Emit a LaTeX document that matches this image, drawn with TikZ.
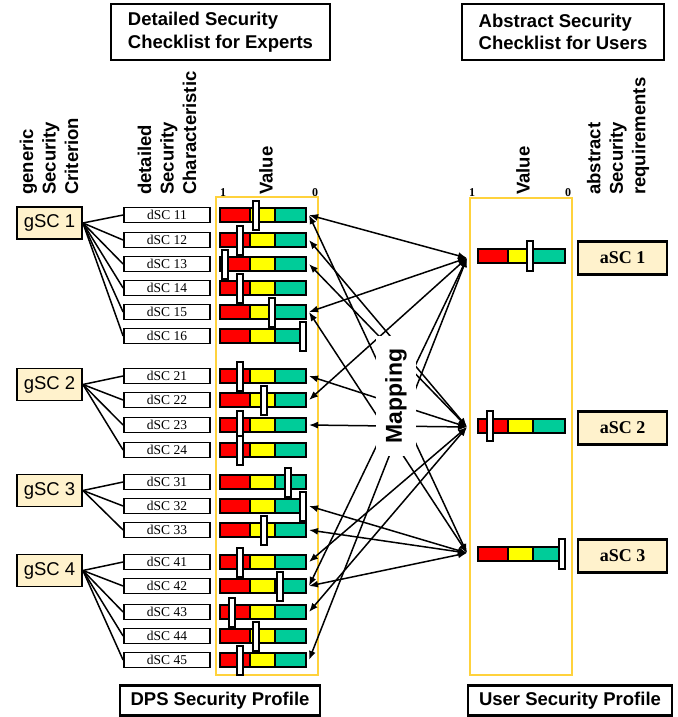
\documentclass[tikz,border=0pt]{standalone}
\usepackage{fontspec}
\setmainfont{Liberation Serif}
\newfontfamily\arial{Liberation Sans}
\usetikzlibrary{arrows.meta}
\definecolor{gscfill}{RGB}{255,242,204}
\definecolor{frameyellow}{RGB}{255,210,60}
\definecolor{barred}{RGB}{255,0,0}
\definecolor{baryellow}{RGB}{255,255,0}
\definecolor{bargreen}{RGB}{0,204,153}
\tikzset{
  hdr/.style={font=\arial\bfseries\fontsize{18.5}{22.5}\selectfont, align=left},
  rothdr/.style={hdr, rotate=90, anchor=west, inner sep=0pt},
  titlebox/.style={draw, line width=2.2pt, hdr, inner sep=0pt},
  gscbox/.style={draw, line width=1.8pt, fill=gscfill, font=\arial\fontsize{18.5}{20}\selectfont, minimum width=65pt, minimum height=32pt, inner sep=0pt},
  dscbox/.style={draw, line width=1.8pt, fill=white, font=\fontsize{13.5}{13.5}\selectfont, minimum width=86pt, minimum height=15pt, inner sep=0pt},
  ascbox/.style={draw, line width=2.2pt, fill=gscfill, font=\bfseries\fontsize{18}{18}\selectfont, minimum width=89pt, minimum height=33pt, inner sep=0pt},
  barpart/.style={draw, line width=2pt},
  slider/.style={draw, fill=white, line width=2pt},
  frame/.style={draw=frameyellow, line width=1.6pt},
  conn/.style={line width=1.5pt},
  maparrow/.style={line width=1.5pt, {Latex[length=9pt,width=7pt]}-{Latex[length=9pt,width=7pt]}},
  scalelbl/.style={font=\bfseries\fontsize{12}{12}\selectfont, anchor=south, inner sep=0.5pt},
}
\begin{document}
\begin{tikzpicture}[x=1pt,y=-1pt]
\useasboundingbox (0,0) rectangle (677,717);

% title boxes
\node[titlebox, minimum width=219pt, minimum height=56pt] (tleft) at (220.5,32) {Detailed Security\\Checklist for Experts};
\node[titlebox, minimum width=202pt, minimum height=56pt] (tright) at (563,32) {Abstract Security\\Checklist for Users};
\node[titlebox, minimum width=200pt, minimum height=30pt] (bleft) at (220,700.5) {DPS Security Profile};
\node[titlebox, minimum width=204pt, minimum height=30pt] (bright) at (570,700.5) {User Security Profile};

% rotated headers
\node[rothdr] (h1txt) at (49,195) {generic\\Security\\Criterion};
\node[rothdr] (h2txt) at (167,195) {detailed\\Security\\Characteristic};
\node[rothdr] (h3txt) at (266,195) {Value};
\node[rothdr] (h4txt) at (523,195) {Value};
\node[rothdr] (h5txt) at (618,195) {abstract\\Security\\requirements};

\node[scalelbl] (one1) at (223,197) {1};
\node[scalelbl] (zero1) at (315,197) {0};
\node[scalelbl] (one2) at (472,197) {1};
\node[scalelbl] (zero2) at (568,197) {0};

% yellow frames
\draw[frame] (216,197) rectangle (318,675);
\draw[frame] (470,198) rectangle (572,675);

% gSC boxes
\node[gscbox] (g1) at (49.5,223) {gSC 1};
\node[gscbox] (g2) at (49.5,384.5) {gSC 2};
\node[gscbox] (g3) at (49.5,490.5) {gSC 3};
\node[gscbox] (g4) at (49.5,570.5) {gSC 4};

% dSC rows
\foreach \n/\y/\s in {11/215/256, 12/240/239.5, 13/264/224.5, 14/288/239.5, 15/312/272, 16/336/303,
                      21/376/239.5, 22/400/264, 23/425/239.5, 24/450/239.5,
                      31/482/287.5, 32/506/303, 33/530/264,
                      41/562/239.5, 42/586/280, 43/612/232, 44/636/256, 45/660/239.5}{
  \node[dscbox] (d\n) at (167,\y) {\raisebox{-2pt}{dSC \n}};
  \draw[barpart, fill=barred] (220,{\y-7}) rectangle (250,{\y+7});
  \draw[barpart, fill=baryellow] (250,{\y-7}) rectangle (275,{\y+7});
  \draw[barpart, fill=bargreen] (275,{\y-7}) rectangle (306,{\y+7});
  \draw[slider] ({\s-3},{\y-14.5}) rectangle ({\s+3},{\y+14.5});
  \coordinate (e\n) at (309,\y);
}

\foreach \d in {11,...,16} \draw[conn] (g1.east) -- (d\d.west);
\foreach \d in {21,...,24} \draw[conn] (g2.east) -- (d\d.west);
\foreach \d in {31,...,33} \draw[conn] (g3.east) -- (d\d.west);
\foreach \d in {41,...,45} \draw[conn] (g4.east) -- (d\d.west);

% abstract rows
\foreach \k/\y/\s/\by in {1/256/530/258, 2/426/490/428, 3/554/562/556}{
  \draw[barpart, fill=barred] (478,{\y-7}) rectangle (508,{\y+7});
  \draw[barpart, fill=baryellow] (508,{\y-7}) rectangle (533,{\y+7});
  \draw[barpart, fill=bargreen] (533,{\y-7}) rectangle (565,{\y+7});
  \draw[slider] ({\s-3},{\y-15}) rectangle ({\s+3},{\y+15});
  \node[ascbox] (a\k) at (622.5,\by) {aSC \k};
}

\coordinate (hub1) at (467,258);
\coordinate (hub2) at (467,427);
\coordinate (hub3) at (467,553);

\foreach \r/\a in {11/1, 11/3, 12/2, 13/2, 15/1, 15/3, 21/2, 22/1, 23/2,
                   32/3, 33/3, 41/2, 42/1, 42/3, 43/2, 45/1}
  \draw[maparrow] (e\r) -- (hub\a);

\node[rotate=90, fill=white, inner xsep=13pt, inner ysep=9pt,
      font=\arial\bfseries\fontsize{23}{23}\selectfont] (map) at (396,396) {Mapping};
\end{tikzpicture}
\end{document}
